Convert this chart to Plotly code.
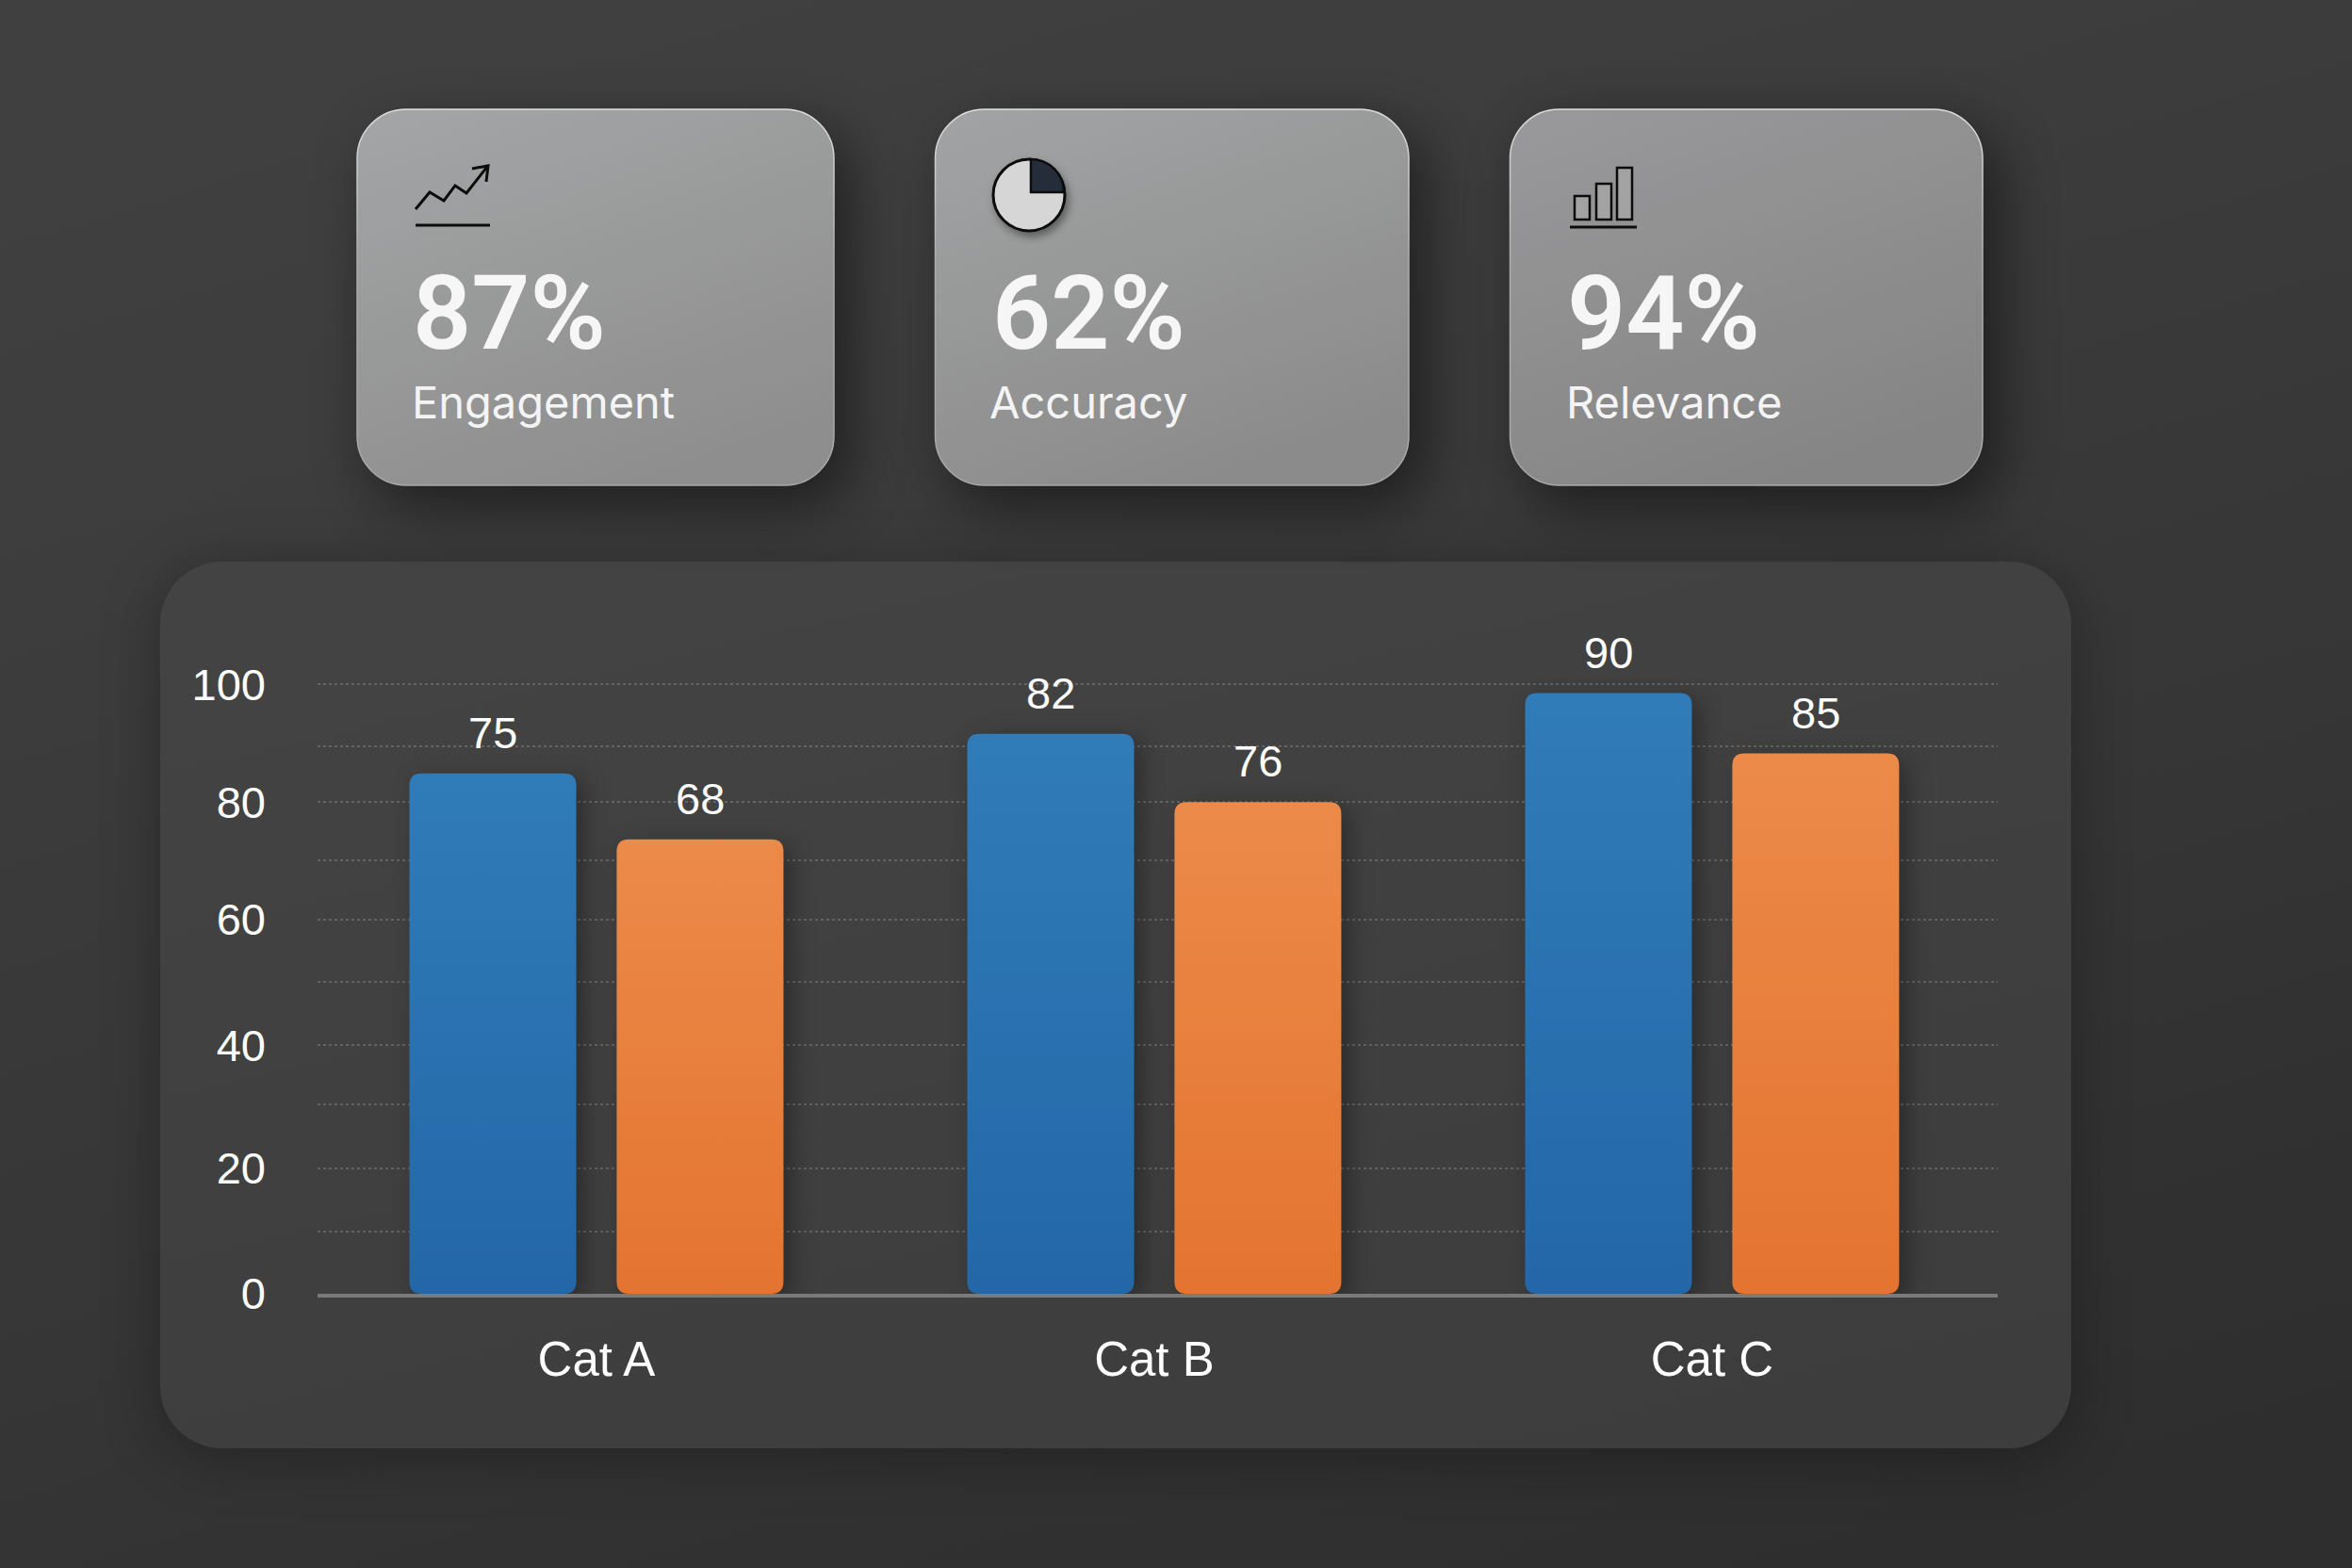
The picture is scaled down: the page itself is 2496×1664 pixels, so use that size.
import plotly.graph_objects as go

# ---- chart data ----
categories = ["Cat A", "Cat B", "Cat C"]
# Bar heights as drawn, read against the gridlines. The picture's printed labels
# do not agree with these heights, so the labels are kept separately.
blue_heights = [85.4, 91.9, 98.6]
orange_heights = [74.6, 80.7, 88.7]
blue_labels = ["75", "82", "90"]
orange_labels = ["68", "76", "85"]
# The gridlines in the picture are slightly unevenly spaced.
grid_positions = [0, 10.2, 20.6, 31.1, 40.8, 51.2, 61.4, 71.2, 80.7, 89.9, 100]
grid_labels = ["0", "", "20", "", "40", "", "60", "", "80", "", "100"]

kpi_values = ["87%", "62%", "94%"]
kpi_names = ["Engagement", "Accuracy", "Relevance"]

W, H = 2496, 1664
PL, PR, PB = 337, 2120, 1373
UNIT = 6.465
YMAX = 101
PT = PB - UNIT * YMAX


def X(px):
    return (px - PL) / (PR - PL)


def Y(py):
    return (PB - py - 1) / (PB - PT)


def rrect(x0, y0, x1, y1, r):
    k = r * 0.4477
    pts = [
        f"M {X(x0 + r)} {Y(y0)}", f"L {X(x1 - r)} {Y(y0)}",
        f"C {X(x1 - k)} {Y(y0)} {X(x1)} {Y(y0 + k)} {X(x1)} {Y(y0 + r)}",
        f"L {X(x1)} {Y(y1 - r)}",
        f"C {X(x1)} {Y(y1 - k)} {X(x1 - k)} {Y(y1)} {X(x1 - r)} {Y(y1)}",
        f"L {X(x0 + r)} {Y(y1)}",
        f"C {X(x0 + k)} {Y(y1)} {X(x0)} {Y(y1 - k)} {X(x0)} {Y(y1 - r)}",
        f"L {X(x0)} {Y(y0 + r)}",
        f"C {X(x0)} {Y(y0 + k)} {X(x0 + k)} {Y(y0)} {X(x0 + r)} {Y(y0)}", "Z",
    ]
    return " ".join(pts)


def poly(points):
    return "M " + " L ".join(f"{X(a)} {Y(b)}" for a, b in points)


def pshape(path, fill="rgba(0,0,0,0)", line="rgba(0,0,0,0)", width=0):
    return dict(type="path", path=path, xref="paper", yref="paper", layer="below",
                fillcolor=fill, line=dict(color=line, width=width))


card_boxes = [(379, 115, 885, 514), (992.5, 115, 1495, 514), (1602.5, 115, 2104, 514)]

shapes = [
    pshape(rrect(-2, -2, W + 2, H + 2, 1), "#383838"),
    pshape(rrect(170, 595, 2198, 1536, 66), "#414141"),
]
for b in card_boxes:
    shapes.append(pshape(rrect(*b, 52), "#979797", "#cfcfcf", 1.5))

# pie icon (index 5 is the disc)
cx, cy, rad = 1092, 206, 38
shapes.append(dict(type="circle", xref="paper", yref="paper", layer="below",
                   x0=X(cx - rad), x1=X(cx + rad), y0=Y(cy + rad), y1=Y(cy - rad),
                   fillcolor="#d6d6d6", line=dict(color="#0c0c0c", width=3)))
wx, wy, wr = 1094, 203, 35
kk = wr * 0.5523
shapes.append(pshape(
    f"M {X(wx)} {Y(wy)} L {X(wx)} {Y(wy - wr)} "
    f"C {X(wx + kk)} {Y(wy - wr)} {X(wx + wr)} {Y(wy - kk)} {X(wx + wr)} {Y(wy)} Z",
    "#252d3a", "#0c0c0c", 2.5))

# trend icon
shapes.append(pshape(poly([(441, 221), (456, 203), (471, 212), (483, 196), (495, 204), (517, 176)]),
                     line="#0c0c0c", width=3))
shapes.append(pshape(poly([(501, 178), (518, 175), (516, 192)]), line="#0c0c0c", width=3))
shapes.append(pshape(poly([(441, 238), (520, 238)]), line="#0c0c0c", width=3))

# bars icon
for x0, x1, y0 in [(1671, 1687, 207), (1694, 1710, 194), (1716, 1732, 177)]:
    shapes.append(pshape(poly([(x0, y0), (x1, y0), (x1, 232), (x0, 232), (x0, y0)]) + " Z",
                         "#a3a3a3", "#0c0c0c", 2.5))
shapes.append(pshape(poly([(1666, 240), (1737, 240)]), line="#0c0c0c", width=3))

annotations = []
for b, v, n, vx, nx in zip(card_boxes, kpi_values, kpi_names,
                           [436, 1051, 1661], [435, 1048, 1660]):
    annotations.append(dict(xref="paper", yref="paper", x=X(vx), y=Y(332), text=v,
                            showarrow=False, xanchor="left", yanchor="middle",
                            font=dict(family="Roboto", size=109, color="#f6f6f6", weight=600)))
    annotations.append(dict(xref="paper", yref="paper", x=X(nx), y=Y(426), text=n,
                            showarrow=False, xanchor="left", yanchor="middle",
                            font=dict(family="Inter", size=47, color="#f4f4f4", weight=400)))

OFFSET = 0.186
for i in range(len(categories)):
    annotations.append(dict(xref="x", yref="y", x=i - OFFSET, y=blue_heights[i], text=blue_labels[i],
                            showarrow=False, yanchor="bottom", yshift=15,
                            font=dict(family="Liberation Sans", size=47, color="#ffffff")))
    annotations.append(dict(xref="x", yref="y", x=i + OFFSET, y=orange_heights[i], text=orange_labels[i],
                            showarrow=False, yanchor="bottom", yshift=15,
                            font=dict(family="Liberation Sans", size=47, color="#ffffff")))

fig = go.Figure()
fig.add_bar(x=categories, y=blue_heights, marker=dict(color="#2b72b0", line=dict(width=0)),
            name="Series 1", cliponaxis=False)
fig.add_bar(x=categories, y=orange_heights, marker=dict(color="#e97f3c", line=dict(width=0)),
            name="Series 2", cliponaxis=False)

fig.update_layout(
    width=W, height=H, showlegend=False, barmode="group", bargap=0.257, bargroupgap=0.195,
    margin=dict(l=PL, r=W - PR, t=PT, b=H - PB, pad=0),
    paper_bgcolor="#383838", plot_bgcolor="rgba(0,0,0,0)",
    shapes=shapes, annotations=annotations,
    xaxis=dict(type="category", range=[-0.5, 2.512], showgrid=False, showline=True,
               linecolor="#7a7a7a", linewidth=4, ticks="", ticklabelstandoff=22,
               tickfont=dict(family="Liberation Sans", size=51, color="#ffffff")),
    yaxis=dict(range=[0, YMAX], tickmode="array", tickvals=grid_positions, ticktext=grid_labels,
               showgrid=True, gridcolor="rgba(255,255,255,0.18)", griddash="dot", gridwidth=2,
               zeroline=False, showline=False, ticks="", ticklabelstandoff=54,
               tickfont=dict(family="Liberation Sans", size=47, color="#ffffff")),
)

post = r"""
document.documentElement.style.overflow='hidden';
document.body.style.margin='0';
document.body.style.background='#383838';
var ns='http://www.w3.org/2000/svg';
var svg=document.querySelector('.main-svg');
var defs=document.createElementNS(ns,'defs');
function lg(id,x1,y1,x2,y2,stops){
  var g=document.createElementNS(ns,'linearGradient');
  g.setAttribute('id',id);g.setAttribute('x1',x1);g.setAttribute('y1',y1);g.setAttribute('x2',x2);g.setAttribute('y2',y2);
  stops.forEach(function(s){var e=document.createElementNS(ns,'stop');e.setAttribute('offset',s[0]);e.setAttribute('stop-color',s[1]);
    if(s[2]!==undefined)e.setAttribute('stop-opacity',s[2]);g.appendChild(e);});
  defs.appendChild(g);
}
lg('gBg',0.3,0,0.75,1,[[0,'#404040'],[0.5,'#383838'],[1,'#2e2e2e']]);
lg('gPanel',0.2,0,0.7,1,[[0,'#434343'],[1,'#3d3d3d']]);
lg('gCard0',0.15,0,0.6,1,[[0,'#a3a4a5'],[1,'#8e8e8e']]);
lg('gCard1',0.15,0,0.6,1,[[0,'#a1a2a3'],[1,'#8b8b8b']]);
lg('gCard2',0.15,0,0.6,1,[[0,'#98989a'],[1,'#858585']]);
lg('gStroke',0,0,0,1,[[0,'#e0e0e0'],[0.4,'#acacac'],[1,'#a8a8a8']]);
lg('gBlue',0,0,0,1,[[0,'#307cb8'],[1,'#2367a8']]);
lg('gOrange',0,0,0,1,[[0,'#ec8a4a'],[1,'#e47430']]);
svg.insertBefore(defs,svg.firstChild);
var sh=document.querySelectorAll('.layer-below .shapelayer path');
sh[0].style.fill='url(#gBg)';
sh[1].style.fill='url(#gPanel)';
sh[1].style.filter='drop-shadow(0 10px 30px rgba(0,0,0,0.30))';
for(var i=0;i<3;i++){
  sh[2+i].style.fill='url(#gCard'+i+')';
  sh[2+i].style.stroke='url(#gStroke)';
  sh[2+i].style.filter='drop-shadow(16px 22px 30px rgba(0,0,0,0.48))';
}
sh[5].style.filter='drop-shadow(3px 5px 4px rgba(0,0,0,0.4))';
// bars: rounded on all four corners, keeping the box the library computed
document.querySelectorAll('.barlayer .trace').forEach(function(t,ti){
  t.querySelectorAll('.point path').forEach(function(p){
    var b=p.getBBox(),r=13,x0=b.x,y0=b.y,x1=b.x+b.width,y1=b.y+b.height;
    p.setAttribute('d','M'+(x0+r)+','+y0+'H'+(x1-r)+'Q'+x1+','+y0+' '+x1+','+(y0+r)+'V'+(y1-r)+'Q'+x1+','+y1+' '+(x1-r)+','+y1+
      'H'+(x0+r)+'Q'+x0+','+y1+' '+x0+','+(y1-r)+'V'+(y0+r)+'Q'+x0+','+y0+' '+(x0+r)+','+y0+'Z');
    p.style.fill=ti==0?'url(#gBlue)':'url(#gOrange)';
    p.style.filter='drop-shadow(8px 6px 12px rgba(0,0,0,0.32))';
  });
});
"""

fig.write_html("out.html", post_script=post, config=dict(displayModeBar=False))
